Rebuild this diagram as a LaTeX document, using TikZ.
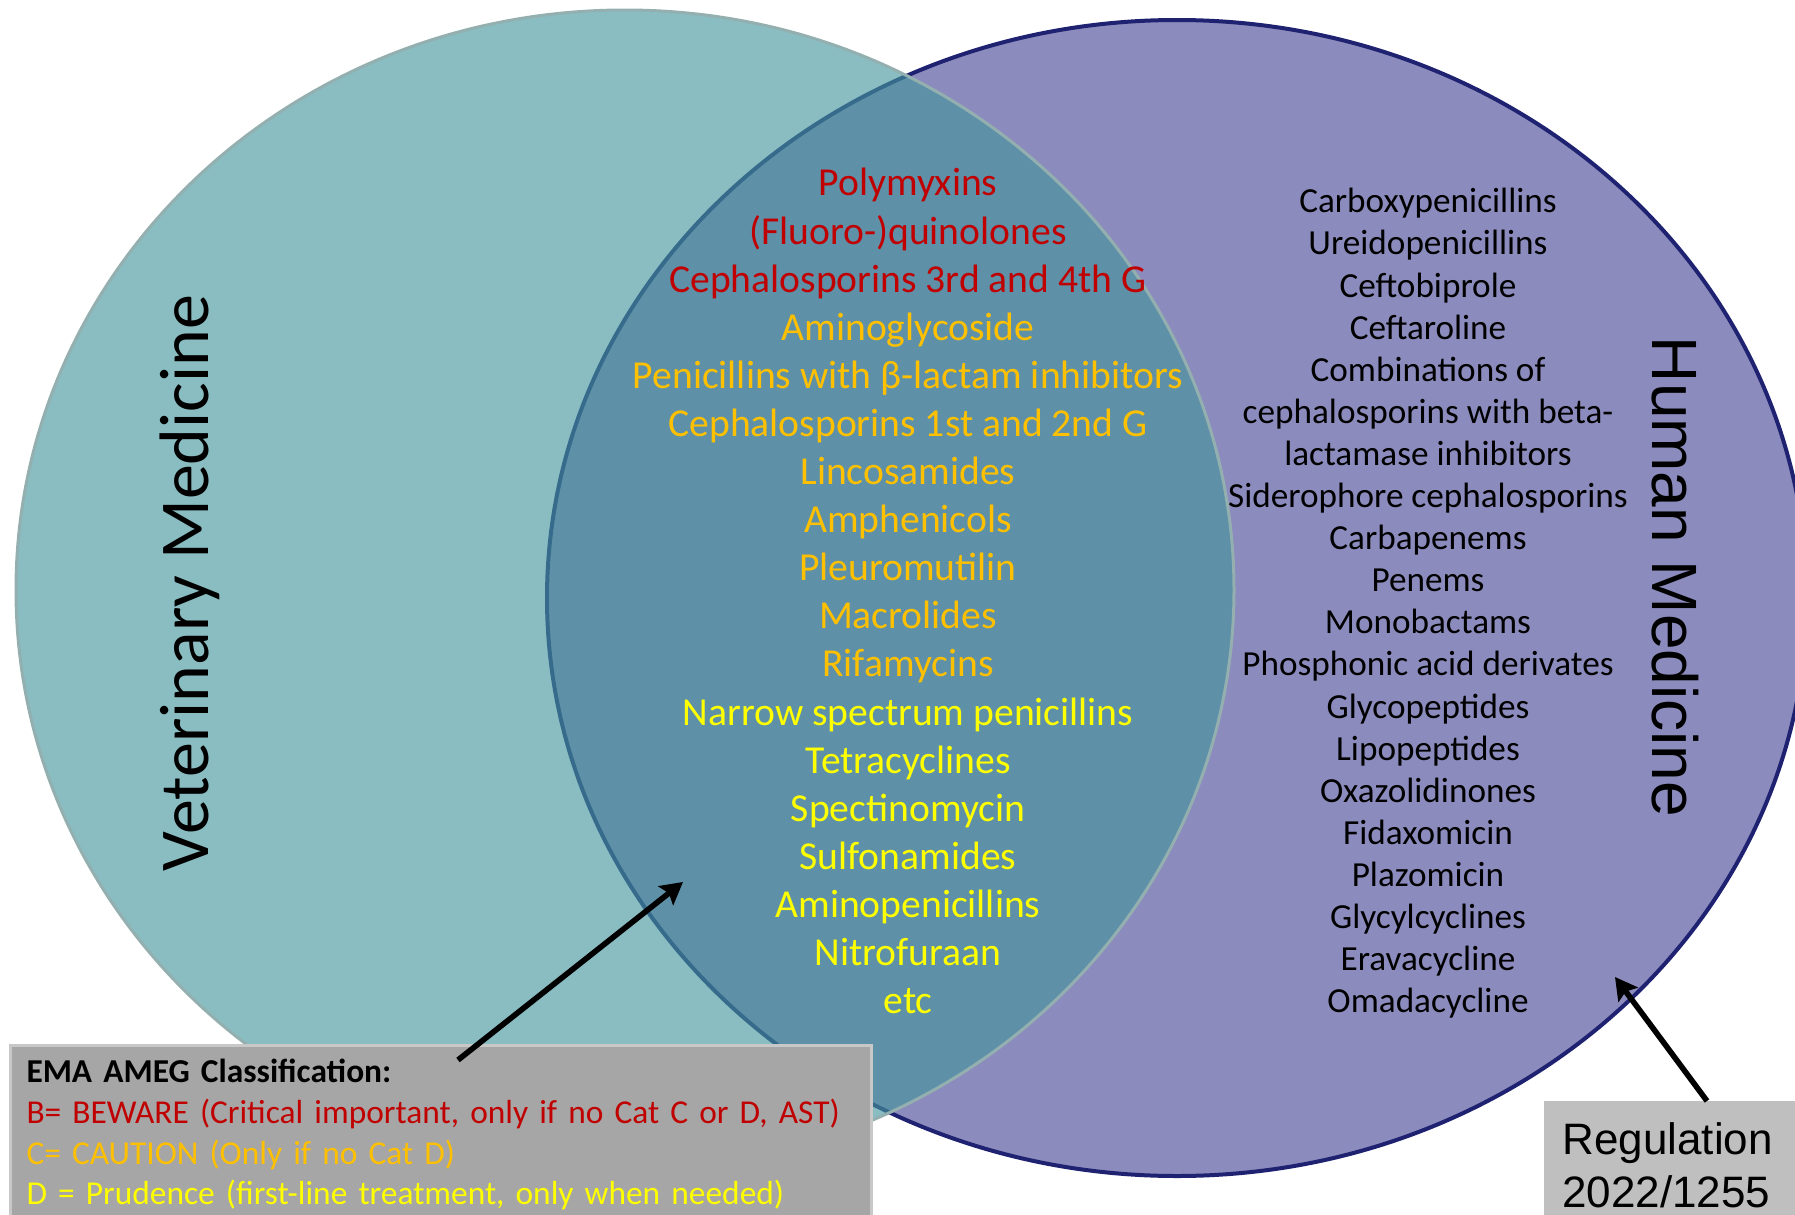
\documentclass[tikz,border=0pt]{standalone}
\usepackage{fontspec}
\setmainfont{Carlito}
\newfontfamily\arialfont{Liberation Sans}
\usetikzlibrary{arrows.meta}
\definecolor{vetfill}{HTML}{45969D}
\definecolor{vetline}{HTML}{93AFAF}
\definecolor{humfill}{HTML}{8B8BBD}
\definecolor{humline}{HTML}{1F2270}
\definecolor{catB}{HTML}{C00000}
\definecolor{catC}{HTML}{FFC000}
\definecolor{catD}{HTML}{FFFF00}
\definecolor{boxgray}{HTML}{A6A6A6}
\definecolor{boxedge}{HTML}{C8C8C8}
\definecolor{reggray}{HTML}{BFBFBF}
\newcommand{\cb}[1]{\textcolor{catB}{#1}}
\newcommand{\cc}[1]{\textcolor{catC}{#1}}
\newcommand{\cd}[1]{\textcolor{catD}{#1}}

\begin{document}
\begin{tikzpicture}[x=0.5pt,y=-0.5pt,
		>={Stealth[length=11pt,width=12pt,inset=2pt]},
		pointer/.style={->,line width=2.8pt,black},
		druglist/.style={align=center,inner sep=0pt,anchor=north},
		legendbox/.style={fill=boxgray,draw=boxedge,line width=1.5pt,align=left,anchor=north west,
			inner xsep=8pt,inner ysep=7pt,text width=414.5pt,font=\fontsize{16.7}{20.3}\selectfont},
		regbox/.style={fill=reggray,align=left,anchor=north west,inner xsep=9pt,inner ysep=10.5pt,
			text width=115pt,font=\arialfont\fontsize{22}{26.5}\selectfont}]
		\useasboundingbox (0,0) rectangle (1795,1215);
		
		% the two sets
		\draw[fill=humfill,draw=humline,line width=2pt] (1177,598) ellipse [x radius=630,y radius=578];
		\draw[fill=vetfill,fill opacity=0.63,draw=vetline,line width=1.5pt] (625,590) ellipse [x radius=609,y radius=580];
		
		\node[rotate=90,anchor=base,font=\fontsize{35}{42}\selectfont] (vet) at (208,583) {Veterinary Medicine};
		\node[rotate=-90,anchor=base,font=\arialfont\fontsize{32}{38}\selectfont] (hum) at (1652,577) {Human Medicine};
		
		% shared classes, by category
		\node[druglist,font=\fontsize{19.8}{24.05}\selectfont] (shared) at (908,168)
		{\cb{Polymyxins}\\\cb{(Fluoro-)quinolones}\\\cb{Cephalosporins 3rd and 4th G}\\
			\cc{Aminoglycoside}\\\cc{Penicillins with β-lactam inhibitors}\\\cc{Cephalosporins 1st and 2nd G}\\
			\cc{Lincosamides}\\\cc{Amphenicols}\\\cc{Pleuromutilin}\\\cc{Macrolides}\\\cc{Rifamycins}\\
			\cd{Narrow spectrum penicillins}\\\cd{Tetracyclines}\\\cd{Spectinomycin}\\\cd{Sulfonamides}\\
			\cd{Aminopenicillins}\\\cd{Nitrofuraan}\\\cd{etc}};
		
		% human only
		\node[druglist,font=\fontsize{17.6}{21.05}\selectfont] (human) at (1428,188)
		{Carboxypenicillins\\Ureidopenicillins\\Ceftobiprole\\Ceftaroline\\Combinations of\\
			cephalosporins with beta-\\lactamase inhibitors\\Siderophore cephalosporins\\Carbapenems\\
			Penems\\Monobactams\\Phosphonic acid derivates\\Glycopeptides\\Lipopeptides\\Oxazolidinones\\
			Fidaxomicin\\Plazomicin\\Glycylcyclines\\Eravacycline\\Omadacycline};
		
		\node[legendbox] (ema) at (9,1044)
		{\textbf{EMA AMEG Classification:}\\
			\cb{B= BEWARE (Critical important, only if no Cat C or D, AST)}\\
			\cc{C= CAUTION (Only if no Cat D)}\\
			\cd{D = Prudence (first-line treatment, only when needed)}};
		\node[regbox] (reg) at (1544,1101) {Regulation\\2022/1255};
		
		\coordinate (emaTip) at (683,882);
		\coordinate (regTip) at (1615,977);
		\draw[pointer] ([shift={(449,16)}]ema.north west) -- (emaTip);
		\draw[pointer] ([shift={(163,0)}]reg.north west) -- (regTip);
\end{tikzpicture}
\end{document}
